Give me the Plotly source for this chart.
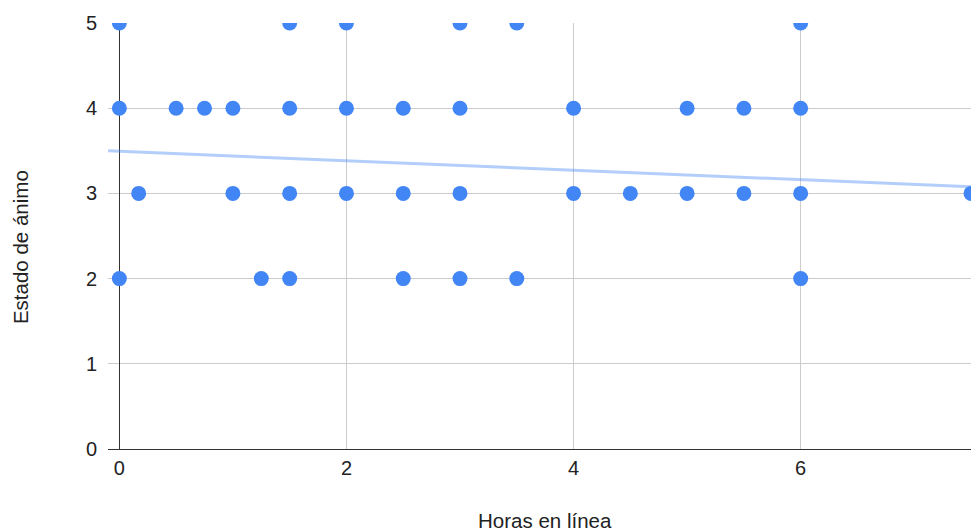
import plotly.graph_objects as go

# Hours online vs. mood score
horas = [
    0, 1.5, 2, 3, 3.5, 6,
    0, 0.5, 0.75, 1, 1.5, 2, 2.5, 3, 4, 5, 5.5, 6,
    0.17, 1, 1.5, 2, 2.5, 3, 4, 4.5, 5, 5.5, 6, 7.5,
    0, 1.25, 1.5, 2.5, 3, 3.5, 6,
]
animo = [
    5, 5, 5, 5, 5, 5,
    4, 4, 4, 4, 4, 4, 4, 4, 4, 4, 4, 4,
    3, 3, 3, 3, 3, 3, 3, 3, 3, 3, 3, 3,
    2, 2, 2, 2, 2, 2, 2,
]

# Linear trendline coefficients
tendencia_intercepto = 3.494
tendencia_pendiente = -0.0555

x_min, x_max = -0.1, 7.5
trend_x = [x_min, x_max]
trend_y = [tendencia_intercepto + tendencia_pendiente * v for v in trend_x]

fig = go.Figure()
fig.add_trace(go.Scatter(
    x=trend_x, y=trend_y, mode="lines",
    line=dict(color="rgba(66,133,244,0.4)", width=3),
    hoverinfo="skip", showlegend=False,
))
fig.add_trace(go.Scatter(
    x=horas, y=animo, mode="markers",
    marker=dict(color="#4285F4", size=15, line=dict(width=0)),
    cliponaxis=True, showlegend=False,
))

font = "Arial, 'Liberation Sans', sans-serif"
title_font = dict(family=font, size=20.5, color="#222222")

fig.update_layout(
    width=971, height=531,
    margin=dict(l=108, r=0, t=23, b=82),
    paper_bgcolor="white", plot_bgcolor="white",
    font=dict(family=font, size=20, color="#222222"),
    xaxis=dict(
        range=[x_min, x_max], dtick=2, tick0=0,
        showgrid=True, gridcolor="#cccccc", gridwidth=1,
        zeroline=True, zerolinecolor="#333333", zerolinewidth=1,
        showline=True, linecolor="#333333", linewidth=1,
        ticks="", ticklabelstandoff=1,
        tickfont=dict(size=20),
        fixedrange=True,
    ),
    yaxis=dict(
        range=[0, 5], dtick=1, tick0=0,
        showgrid=True, gridcolor="#cccccc", gridwidth=1,
        zeroline=False, showline=False,
        ticks="", ticklabelstandoff=10,
        tickfont=dict(size=20),
        fixedrange=True,
    ),
    annotations=[
        dict(text="Horas en línea", xref="paper", yref="paper",
             x=0.5064, y=-0.169, xanchor="center", yanchor="middle",
             showarrow=False, font=title_font),
        dict(text="Estado de ánimo", xref="paper", yref="paper",
             x=-0.102, y=0.474, xanchor="center", yanchor="middle",
             textangle=-90, showarrow=False, font=title_font),
    ],
)

fig.write_html("out.html")
